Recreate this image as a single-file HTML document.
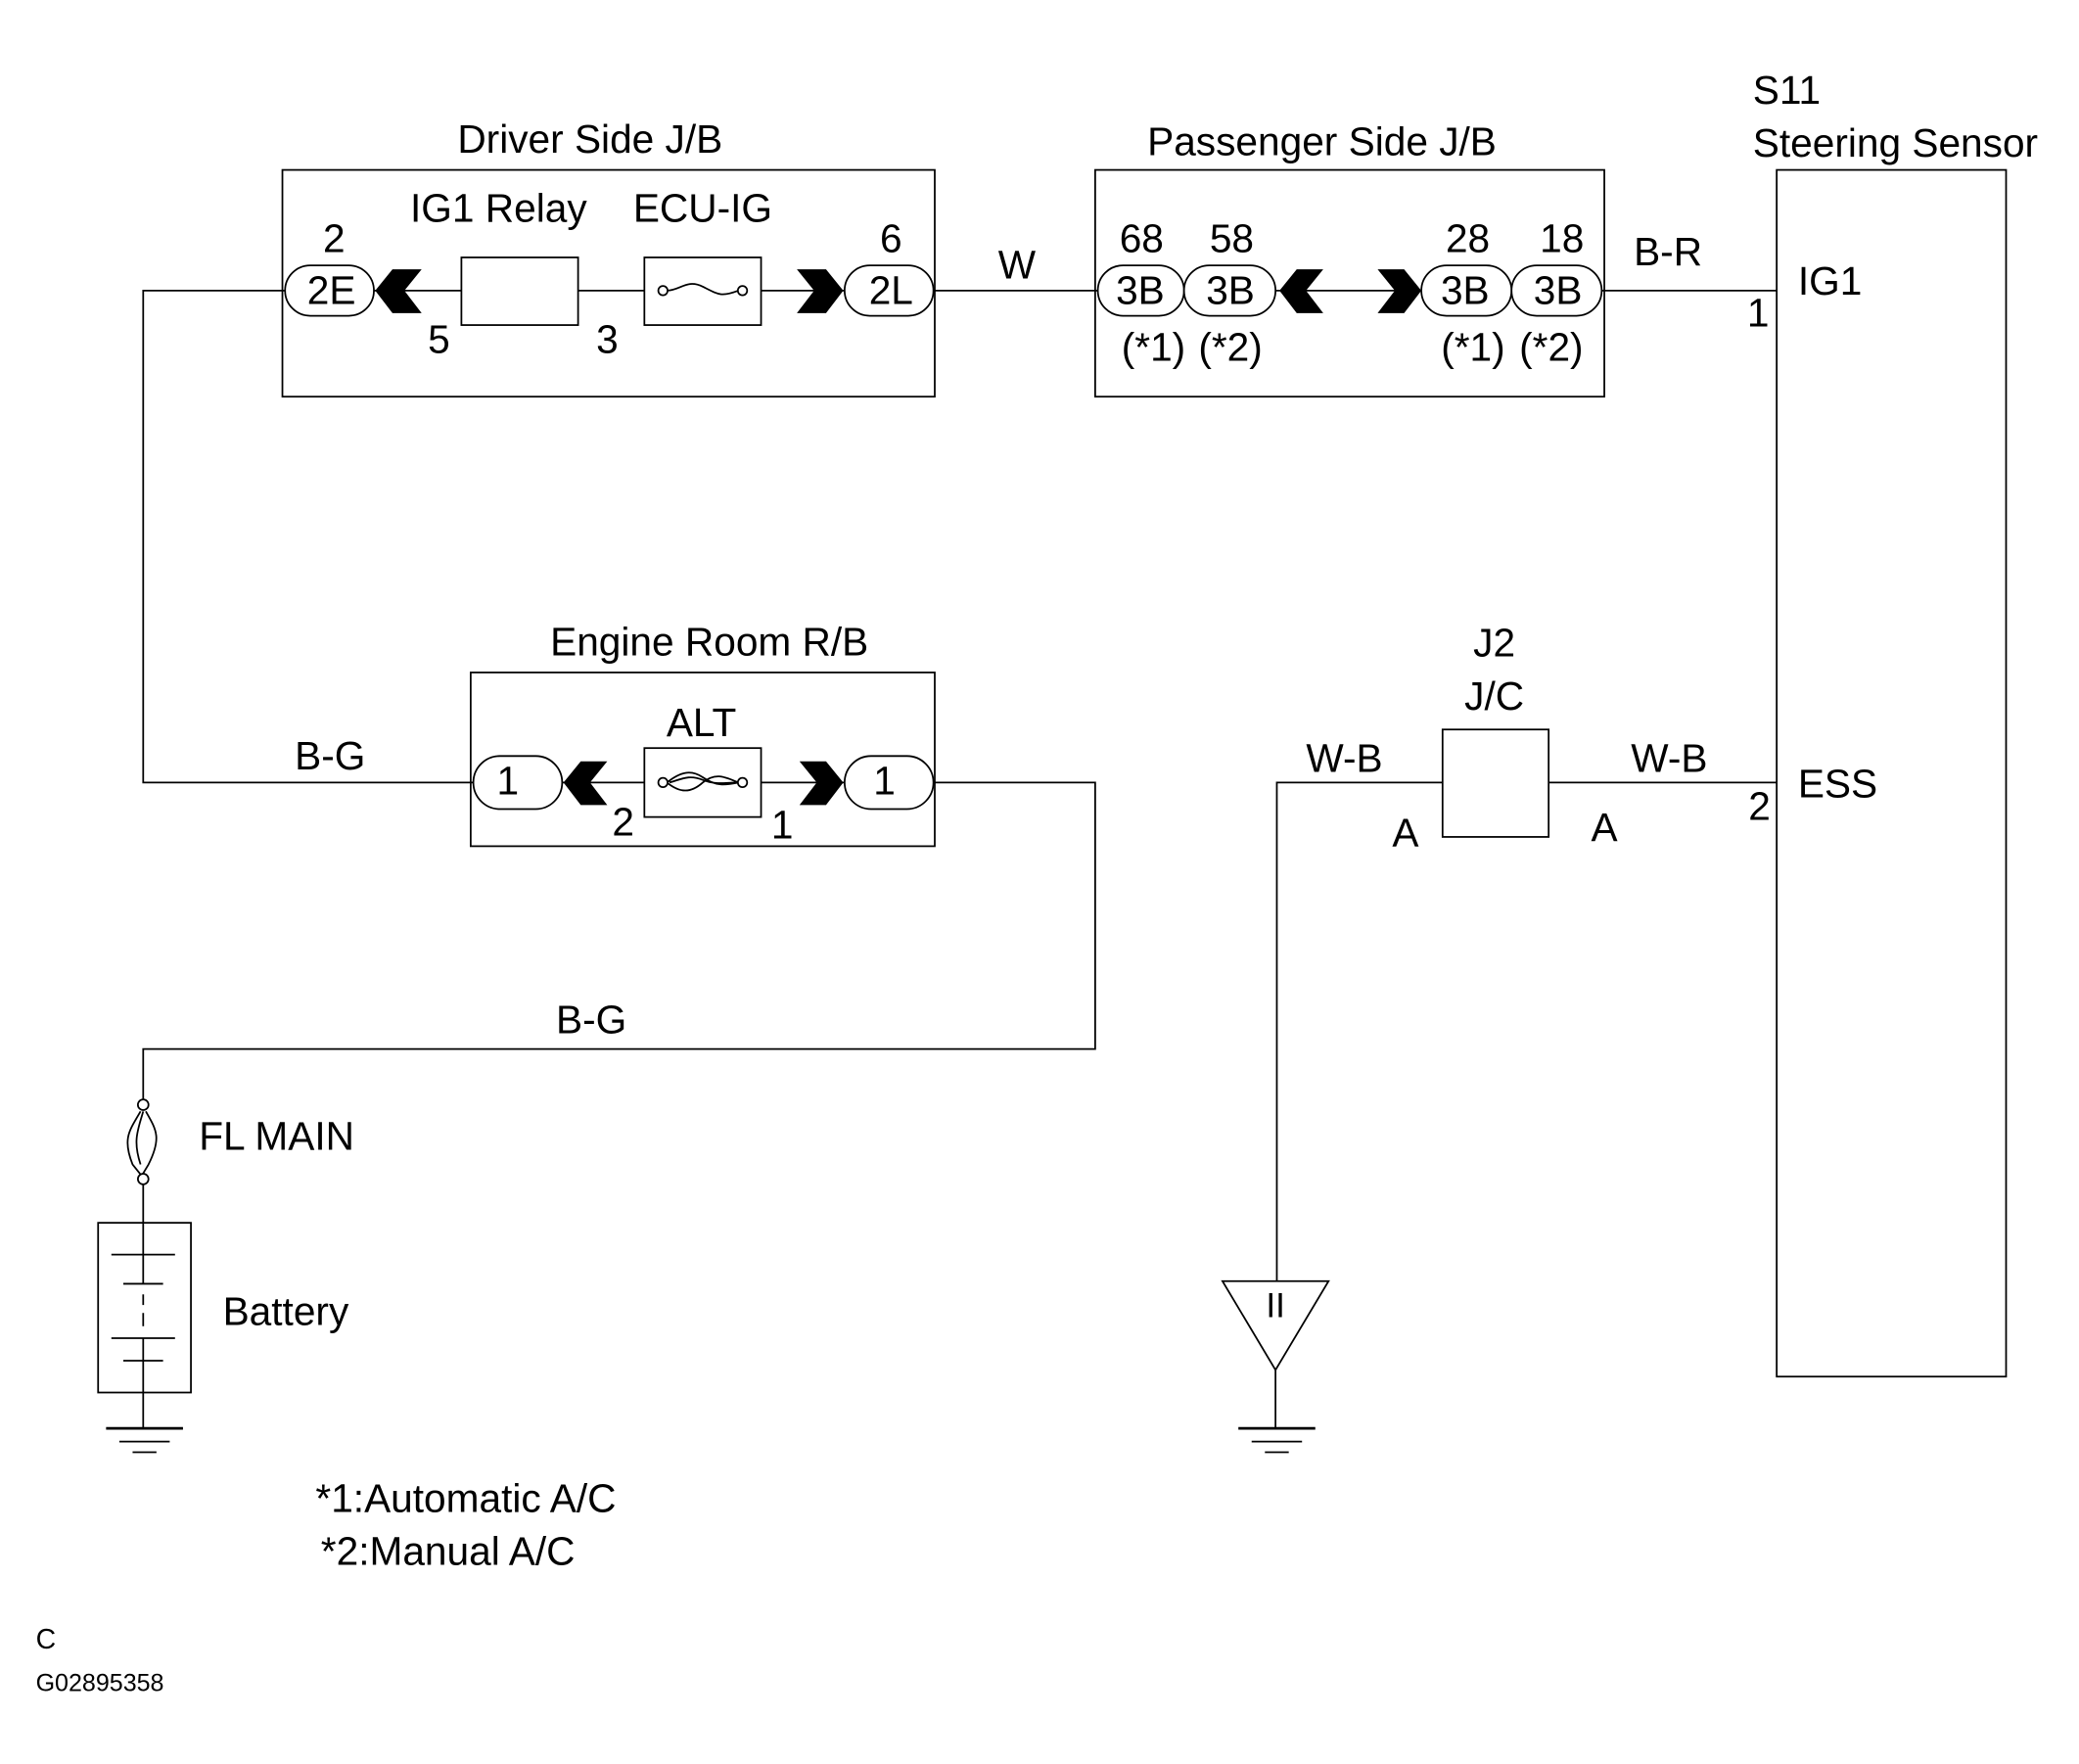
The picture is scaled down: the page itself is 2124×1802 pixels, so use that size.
<!DOCTYPE html>
<html><head><meta charset="utf-8"><style>html,body{margin:0;padding:0;background:#fff}svg{display:block}</style></head>
<body>
<svg width="2124" height="1802" viewBox="0 0 1568 1330" xmlns="http://www.w3.org/2000/svg" font-family="Liberation Sans, sans-serif" font-size="30" fill="none" stroke="#000" stroke-width="1.5">
<rect x="0" y="0" width="1568" height="1330" fill="#fff" stroke="none"/>
<g stroke-width="1.3">
<polyline points="215,219 108,219 108,590 357,590"/>
<line x1="282" y1="219" x2="348" y2="219"/>
<line x1="436" y1="219" x2="486" y2="219"/>
<line x1="574" y1="219" x2="637" y2="219"/>
<line x1="704" y1="219" x2="828" y2="219"/>
<line x1="962" y1="219" x2="1072" y2="219"/>
<line x1="1208" y1="219" x2="1340" y2="219"/>
<line x1="424" y1="590" x2="486" y2="590"/>
<line x1="574" y1="590" x2="637" y2="590"/>
<polyline points="704,590 826,590 826,791 108,791 108,829"/>
<line x1="108" y1="893" x2="108" y2="968"/>
<line x1="108" y1="1009" x2="108" y2="1077"/>
<line x1="108" y1="976" x2="108" y2="984"/><line x1="108" y1="990" x2="108" y2="1000"/>
<polyline points="1088,590 963,590 963,966"/>
<line x1="1168" y1="590" x2="1340" y2="590"/>
<line x1="962" y1="1033" x2="962" y2="1077"/>
<rect x="213" y="128" width="492" height="171"/>
<rect x="826" y="128" width="384" height="171"/>
<rect x="1340" y="128" width="173" height="910"/>
<rect x="355" y="507" width="350" height="131"/>
<rect x="1088" y="550" width="80" height="81"/>
<rect x="348" y="194" width="88" height="51" fill="#fff"/>
<rect x="486" y="194" width="88" height="51" fill="#fff"/>
<rect x="486" y="564" width="88" height="52" fill="#fff"/>
<rect x="74" y="922" width="70" height="128"/>
<rect x="215" y="200" width="67" height="38" rx="19" fill="#fff"/>
<rect x="637" y="200" width="67" height="38" rx="19" fill="#fff"/>
<rect x="828" y="200" width="65" height="38" rx="19" fill="#fff"/>
<rect x="893" y="200" width="69" height="38" rx="19" fill="#fff"/>
<rect x="1072" y="200" width="68" height="38" rx="19" fill="#fff"/>
<rect x="1140" y="200" width="68" height="38" rx="19" fill="#fff"/>
<rect x="357" y="570" width="67" height="40" rx="20" fill="#fff"/>
<rect x="637" y="570" width="67" height="40" rx="20" fill="#fff"/>
<path d="M503,219 c10,0 15,-9 27,-3 c12,6 14,8 27,3"/>
<circle cx="500" cy="219" r="3.5" fill="#fff"/><circle cx="560" cy="219" r="3.5" fill="#fff"/>
<path d="M503,590 c10,-8 18,-10 27,-4 c10,7 17,6 27,4 M503,590 c10,8 18,8 27,0 c10,-8 17,-4 27,0 M505,590 c10,-3 15,-6 25,-2 c10,4 17,2 25,2"/>
<circle cx="500" cy="590" r="3.5" fill="#fff"/><circle cx="560" cy="590" r="3.5" fill="#fff"/>
<path d="M106,838 c-8,14 -14,20 -6,40 l8,10 M110,838 c8,14 12,20 2,40 l-6,10 M108,838 c-4,14 -8,22 -2,40"/>
<circle cx="108" cy="833" r="4" fill="#fff"/><circle cx="108" cy="889" r="4" fill="#fff"/>
<line x1="84" y1="946" x2="132" y2="946"/><line x1="93" y1="968" x2="123" y2="968"/>
<line x1="84" y1="1009" x2="132" y2="1009"/><line x1="93" y1="1026" x2="123" y2="1026"/>
<line x1="80" y1="1077" x2="138" y2="1077" stroke-width="2"/><line x1="90" y1="1087" x2="128" y2="1087"/><line x1="100" y1="1095" x2="118" y2="1095"/>
<line x1="934" y1="1077" x2="992" y2="1077" stroke-width="2"/><line x1="944" y1="1087" x2="982" y2="1087"/><line x1="954" y1="1095" x2="972" y2="1095"/>
<polygon points="922,966 1002,966 962,1033" fill="#fff"/>
</g>
<g fill="#000" stroke="none">
<polygon points="283,219 296,203 318,203 305,219 318,236 296,236"/>
<polygon points="636,219 623,203 601,203 614,219 601,236 623,236"/>
<polygon points="965,219 978,203 998,203 985,219 998,236 978,236"/>
<polygon points="1072,219 1059,203 1039,203 1052,219 1039,236 1059,236"/>
<polygon points="425,590 438,574 458,574 445,590 458,607 438,607"/>
<polygon points="636,590 623,574 603,574 616,590 603,607 623,607"/>
</g>
<g fill="#000" stroke="none">
<text x="445" y="115" text-anchor="middle">Driver Side J/B</text>
<text x="997" y="117" text-anchor="middle">Passenger Side J/B</text>
<text x="1322" y="78">S11</text>
<text x="1322" y="118">Steering Sensor</text>
<text x="376" y="167" text-anchor="middle">IG1 Relay</text>
<text x="530" y="167" text-anchor="middle">ECU-IG</text>
<text x="252" y="190" text-anchor="middle">2</text>
<text x="672" y="190" text-anchor="middle">6</text>
<text x="250" y="229" text-anchor="middle">2E</text>
<text x="672" y="229" text-anchor="middle">2L</text>
<text x="331" y="266" text-anchor="middle">5</text>
<text x="458" y="266" text-anchor="middle">3</text>
<text x="767" y="210" text-anchor="middle">W</text>
<text x="861" y="190" text-anchor="middle">68</text>
<text x="929" y="190" text-anchor="middle">58</text>
<text x="1107" y="190" text-anchor="middle">28</text>
<text x="1178" y="190" text-anchor="middle">18</text>
<text x="860" y="229" text-anchor="middle">3B</text>
<text x="928" y="229" text-anchor="middle">3B</text>
<text x="1105" y="229" text-anchor="middle">3B</text>
<text x="1175" y="229" text-anchor="middle">3B</text>
<text x="870" y="272" text-anchor="middle">(*1)</text>
<text x="928" y="272" text-anchor="middle">(*2)</text>
<text x="1111" y="272" text-anchor="middle">(*1)</text>
<text x="1170" y="272" text-anchor="middle">(*2)</text>
<text x="1258" y="200" text-anchor="middle">B-R</text>
<text x="1326" y="246" text-anchor="middle">1</text>
<text x="1356" y="222">IG1</text>
<text x="535" y="494" text-anchor="middle">Engine Room R/B</text>
<text x="529" y="555" text-anchor="middle">ALT</text>
<text x="383" y="599" text-anchor="middle">1</text>
<text x="667" y="599" text-anchor="middle">1</text>
<text x="470" y="630" text-anchor="middle">2</text>
<text x="590" y="632" text-anchor="middle">1</text>
<text x="249" y="580" text-anchor="middle">B-G</text>
<text x="446" y="779" text-anchor="middle">B-G</text>
<text x="1127" y="495" text-anchor="middle">J2</text>
<text x="1127" y="535" text-anchor="middle">J/C</text>
<text x="1014" y="582" text-anchor="middle">W-B</text>
<text x="1259" y="582" text-anchor="middle">W-B</text>
<text x="1060" y="638" text-anchor="middle">A</text>
<text x="1210" y="634" text-anchor="middle">A</text>
<text x="1327" y="618" text-anchor="middle">2</text>
<text x="1356" y="601">ESS</text>
<text x="962" y="993" text-anchor="middle" font-size="26">II</text>
<text x="150" y="867">FL MAIN</text>
<text x="168" y="999">Battery</text>
<text x="238" y="1140">*1:Automatic A/C</text>
<text x="242" y="1180">*2:Manual A/C</text>
<text x="27" y="1243" font-size="21">C</text>
<text x="27" y="1275" font-size="18.5">G02895358</text>
</g>
</svg>
</body></html>
